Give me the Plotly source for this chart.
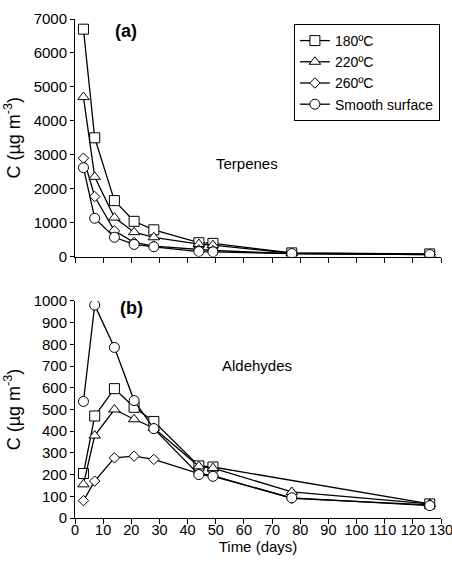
import plotly.graph_objects as go

days = [3, 7, 14, 21, 28, 44, 49, 77, 126]

# (a) Terpenes
terp_180 = [6700, 3500, 1650, 1040, 790, 410, 390, 110, 80]
terp_220 = [4700, 2350, 1150, 720, 570, 370, 340, 100, 70]
terp_260 = [2900, 1770, 760, 420, 310, 200, 180, 90, 60]
terp_smooth = [2620, 1130, 570, 360, 290, 150, 140, 90, 60]

# (b) Aldehydes
ald_180 = [205, 470, 596, 510, 445, 240, 235, None, 65]
ald_220 = [155, 380, 500, 455, 415, 238, 230, 120, 65]
ald_260 = [80, 170, 277, 285, 270, 205, 195, 90, 60]
ald_smooth = [537, 981, 786, 541, 412, 200, 192, 93, 57]

names = ["180ºC", "220ºC", "260ºC", "Smooth surface"]
symbols = ["square", "triangle-up", "diamond", "circle"]
sizes = [10, 10, 8, 10]

FONT = "Liberation Sans, Arial, sans-serif"

fig = go.Figure()

for vals, name, sym, sz in zip([terp_180, terp_220, terp_260, terp_smooth], names, symbols, sizes):
    fig.add_trace(go.Scatter(
        x=days, y=vals, name=name, mode="lines+markers",
        line=dict(color="black", width=1.3),
        marker=dict(symbol=sym, size=sz, color="white", line=dict(color="black", width=1)),
        xaxis="x", yaxis="y", showlegend=True, connectgaps=True))

for vals, name, sym, sz in zip([ald_180, ald_220, ald_260, ald_smooth], names, symbols, sizes):
    fig.add_trace(go.Scatter(
        x=days, y=vals, name=name, mode="lines+markers",
        line=dict(color="black", width=1.3),
        marker=dict(symbol=sym, size=sz, color="white", line=dict(color="black", width=1)),
        xaxis="x2", yaxis="y2", showlegend=False, connectgaps=True))

axis_common = dict(showline=True, linecolor="black", linewidth=1, ticks="outside",
                   tickcolor="black", showgrid=False, zeroline=False, mirror=False,
                   automargin=False, ticklabeloverflow="allow")

ytick_font = dict(family=FONT, size=15, color="black")
xtick_font = dict(family=FONT, size=14.5, color="black")

ytitle = "C (µg m<sup>-3</sup>)"

fig.update_layout(
    width=452, height=567,
    margin=dict(l=75, r=11, t=19, b=49),
    paper_bgcolor="white", plot_bgcolor="white",
    font=dict(family=FONT, size=14, color="black"),
    xaxis=dict(domain=[0, 1], range=[0, 130], dtick=10, ticklen=5, showticklabels=False,
               anchor="y", tickfont=xtick_font, **axis_common),
    yaxis=dict(domain=[0.5238, 1], range=[0, 7000], dtick=1000, ticklen=4,
               tickfont=ytick_font,
               title=dict(text=ytitle, font=dict(family=FONT, size=18, color="black"), standoff=8),
               anchor="x", **axis_common),
    xaxis2=dict(domain=[0, 1], range=[0, 130], dtick=10, ticklen=5, anchor="y2",
                ticklabelstandoff=-6, tickfont=xtick_font,
                title=dict(text="Time (days)", font=dict(family=FONT, size=15, color="black"), standoff=0),
                **axis_common),
    yaxis2=dict(domain=[0, 0.4349], range=[0, 1000], dtick=100, ticklen=4,
                tickfont=ytick_font,
                title=dict(text=ytitle, font=dict(family=FONT, size=18, color="black"), standoff=8),
                anchor="x2", **axis_common),
    legend=dict(x=0.997, y=0.99, xanchor="right", yanchor="top",
                bordercolor="black", borderwidth=1, bgcolor="white",
                font=dict(family=FONT, size=14, color="black"), itemwidth=30,
                tracegroupgap=0),
    annotations=[
        dict(text="<b>(a)</b>", x=18, y=6640, xref="x", yref="y", showarrow=False,
             font=dict(family=FONT, size=18, color="black")),
        dict(text="Terpenes", x=61, y=2730, xref="x", yref="y", showarrow=False,
             font=dict(family=FONT, size=15, color="black")),
        dict(text="<b>(b)</b>", x=20, y=967, xref="x2", yref="y2", showarrow=False,
             font=dict(family=FONT, size=18, color="black")),
        dict(text="Aldehydes", x=64.5, y=704, xref="x2", yref="y2", showarrow=False,
             font=dict(family=FONT, size=15, color="black")),
    ],
)

# remove the page's default body margin so the figure fills the window exactly
fig.write_html("out.html", config={"displayModeBar": False},
               post_script="document.body.style.margin='0';document.body.style.overflow='hidden';")
